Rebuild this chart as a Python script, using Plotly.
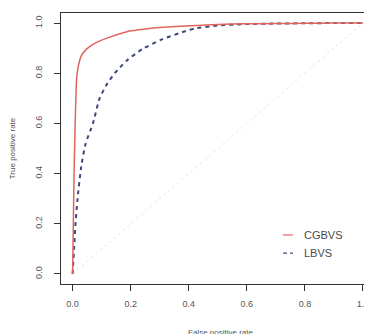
import plotly.graph_objects as go

# ROC data
cgbvs_fpr = [0.0, 0.005, 0.01, 0.014, 0.02, 0.03, 0.048, 0.07, 0.1, 0.128, 0.16, 0.197, 0.25, 0.3, 0.39, 0.5, 0.6, 0.7, 0.8, 0.9, 1.0]
cgbvs_tpr = [0.0, 0.4, 0.65, 0.78, 0.83, 0.87, 0.896, 0.915, 0.932, 0.944, 0.956, 0.968, 0.976, 0.982, 0.988, 0.994, 0.997, 0.998, 0.999, 1.0, 1.0]

lbvs_fpr = [0.0, 0.005, 0.01, 0.017, 0.03, 0.045, 0.07, 0.093, 0.12, 0.145, 0.186, 0.24, 0.31, 0.39, 0.42, 0.5, 0.6, 0.7, 0.8, 0.9, 1.0]
lbvs_tpr = [0.0, 0.1, 0.2, 0.30, 0.43, 0.52, 0.60, 0.70, 0.76, 0.80, 0.85, 0.896, 0.936, 0.968, 0.978, 0.99, 0.996, 0.998, 0.999, 1.0, 1.0]

diag = [0.0, 1.0]
ticks = [0.0, 0.2, 0.4, 0.6, 0.8, 1.0]
tick_labels = ["0.0", "0.2", "0.4", "0.6", "0.8", "1.0"]
series_names = ["CGBVS", "LBVS"]

RED = "#e0645c"
BLUE = "#3b4a78"
FONT = "Liberation Sans, Arial, sans-serif"

fig = go.Figure()
fig.add_trace(go.Scatter(x=diag, y=diag, mode="lines",
                         line=dict(color="#e6e6e6", width=1, dash="dot"),
                         showlegend=False, hoverinfo="skip"))
fig.add_trace(go.Scatter(x=lbvs_fpr, y=lbvs_tpr, mode="lines", name=series_names[1],
                         line=dict(color=BLUE, width=2, dash="4px,4px", shape="spline", smoothing=0.6),
                         showlegend=False))
fig.add_trace(go.Scatter(x=cgbvs_fpr, y=cgbvs_tpr, mode="lines", name=series_names[0],
                         line=dict(color=RED, width=1.5, shape="spline", smoothing=0.6),
                         showlegend=False))

axis_common = dict(
    showgrid=False, zeroline=False, showline=True, linecolor="#333333", linewidth=1.2,
    mirror=True, ticks="outside", ticklen=6, tickcolor="#333333", tickwidth=1,
    tickvals=ticks, ticktext=tick_labels, automargin=False, ticklabeloverflow="allow",
    tickfont=dict(family=FONT, size=9, color="#555555"),
)

# page body has an 8px margin, so the figure is offset by 8px right and down
fig.update_layout(
    width=372, height=334,
    margin=dict(l=53, r=0, t=5, b=58),
    paper_bgcolor="white", plot_bgcolor="white",
    xaxis=dict(range=[-0.04, 1.0586], ticklabelstandoff=5, **axis_common,
               title=dict(text="False positive rate", font=dict(family=FONT, size=8, color="#555555"),
                          standoff=21)),
    yaxis=dict(range=[-0.04, 1.04], tickangle=-90, ticklabelstandoff=8, **axis_common,
               title=dict(text="True positive rate", font=dict(family=FONT, size=8, color="#555555"),
                          standoff=20)),
    showlegend=False,
)

# Legend drawn manually (short line samples like R's legend)
leg_y = [0.181, 0.114]
leg_colors = [RED, BLUE]
leg_dash = ["solid", "4px,3px"]
for name, yy, col, dsh in zip(series_names, leg_y, leg_colors, leg_dash):
    fig.add_shape(type="line", xref="paper", yref="paper",
                  x0=0.696, x1=0.727, y0=yy, y1=yy,
                  line=dict(color=col, width=1.2, dash=dsh))
    fig.add_annotation(text=name, xref="paper", yref="paper", x=0.757, y=yy,
                       xanchor="left", yanchor="middle", showarrow=False,
                       font=dict(family=FONT, size=11, color="#4a4a4a"))

fig.write_html("out.html")
